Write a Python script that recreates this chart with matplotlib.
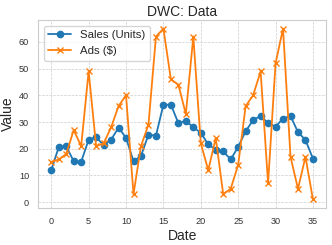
import matplotlib
matplotlib.use('Agg')
import matplotlib.pyplot as plt
import seaborn as sns

# data
dates = list(range(36))
sales = [12, 20.6, 21, 15.3, 15.1, 23.4, 24.4, 21.3, 23.4, 27.9,
         24.1, 15.3, 17.3, 25.3, 24.9, 36.5, 36.5, 29.6, 30.5, 28,
         26, 21.6, 19.7, 19, 16, 20.7, 26.6, 30.7, 32.3, 29.6,
         28.3, 31.3, 32.3, 26.2, 23.3, 16.3]
ads = [15, 16, 18, 27, 21, 49, 21, 22, 28, 36,
       40, 3, 21, 29, 62, 65, 46, 44, 33, 62,
       22, 12, 24, 3, 5, 14, 36, 40, 49, 7,
       52, 65, 17, 5, 17, 1]

sns.set_style('whitegrid', {'grid.linestyle': '--'})
plt.rcParams['font.family'] = ['Liberation Sans', 'DejaVu Sans']

fig, ax = plt.subplots(figsize=(3.32, 2.45), dpi=100)
ax.plot(dates, sales, marker='o', markersize=4.5, linewidth=1.3,
        color='#1f77b4', label='Sales (Units)')
ax.plot(dates, ads, marker='x', markersize=4, linewidth=1.3,
        color='#ff7f0e', label='Ads ($)')

ax.set_title('DWC: Data', fontsize=10, pad=3)
ax.set_xlabel('Date', fontsize=10, labelpad=2)
ax.set_ylabel('Value', fontsize=10, labelpad=3)
ax.set_xticks(range(0, 36, 5))
ax.set_yticks(range(0, 61, 10))
ax.tick_params(labelsize=6.6, pad=3, labelcolor='#333333')
ax.grid(True, linewidth=0.5)
ax.legend(loc='upper left', fontsize=8.2, frameon=True)

fig.subplots_adjust(left=0.115, right=0.982, top=0.918, bottom=0.151)
fig.savefig('out.png', dpi=100)
